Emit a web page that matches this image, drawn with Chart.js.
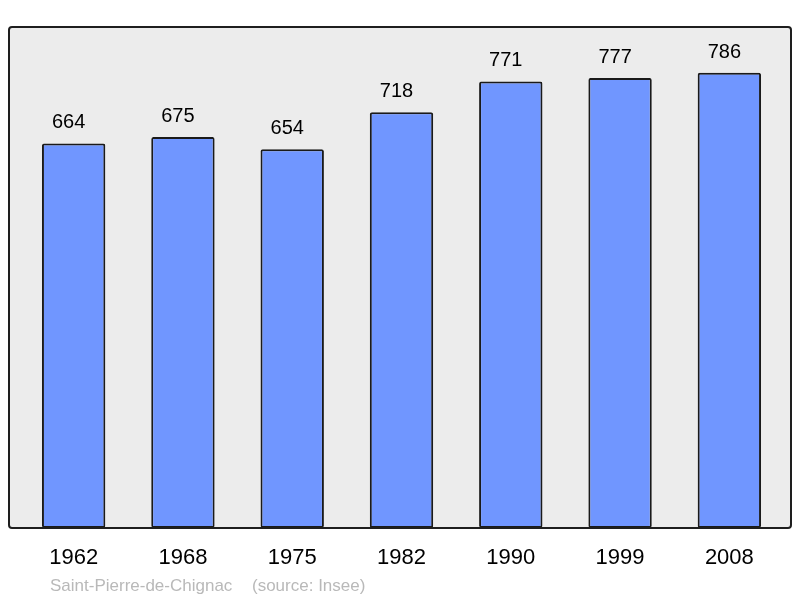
<!DOCTYPE html>
<html>
<head>
    <meta charset="utf-8">
    <title>Saint-Pierre-de-Chignac - population</title>
    <script src="https://cdn.jsdelivr.net/npm/chart.js"></script>
    <style>
        html, body { margin: 0; padding: 0; background: #fff; }
        #wrap { width: 800px; height: 598px; }
    </style>
</head>
<body>
    <div id="wrap"><canvas id="popChart"></canvas></div>

    <script>
        // données (recensements Insee)
        const annees = ['1962', '1968', '1975', '1982', '1990', '1999', '2008'];
        const population = [664, 675, 654, 718, 771, 777, 786];
        const commune = 'Saint-Pierre-de-Chignac';
        const source = '(source: Insee)';

        const fontName = '"Liberation Sans", Arial, sans-serif';

        // fond gris + cadre autour de la zone du graphique
        const cadre = {
            id: 'cadre',
            beforeDraw(chart) {
                const a = chart.chartArea;
                const ctx = chart.ctx;
                const x = a.left - 10, y = a.top, w = a.right + 7 - x, h = a.bottom - a.top;
                ctx.save();
                ctx.beginPath();
                ctx.roundRect(x, y, w, h, 3);
                ctx.fillStyle = '#ececec';
                ctx.fill();
                ctx.restore();
            },
            afterDatasetsDraw(chart) {
                const a = chart.chartArea;
                const ctx = chart.ctx;
                const x = a.left - 10, y = a.top, w = a.right + 7 - x, h = a.bottom - a.top;
                ctx.save();
                ctx.beginPath();
                ctx.roundRect(x, y, w, h, 3);
                ctx.lineWidth = 2;
                ctx.strokeStyle = '#1e1e1e';
                ctx.stroke();

                // valeurs au-dessus des barres
                ctx.fillStyle = '#000';
                ctx.font = '20px ' + fontName;
                ctx.textAlign = 'center';
                ctx.textBaseline = 'alphabetic';
                chart.getDatasetMeta(0).data.forEach((bar, i) => {
                    ctx.fillText(String(population[i]), bar.x - 5, bar.y - 15);
                });

                // légende du bas
                ctx.font = '17px ' + fontName;
                ctx.fillStyle = '#b9b9b9';
                ctx.textAlign = 'left';
                ctx.fillText(commune, 50, 591);
                ctx.fillText(source, 252, 591);
                ctx.restore();
            }
        };

        const ctx = document.getElementById('popChart').getContext('2d');
        new Chart(ctx, {
            type: 'bar',
            data: {
                labels: annees,
                datasets: [{
                    data: population,
                    backgroundColor: '#7096ff',
                    borderColor: '#1a1a1a',
                    borderWidth: 2,
                    borderRadius: 2,
                    borderSkipped: false,
                    categoryPercentage: 1,
                    barPercentage: 0.58
                }]
            },
            options: {
                responsive: true,
                maintainAspectRatio: false,
                animation: false,
                layout: { padding: { left: 19, right: 16, top: 27, bottom: 0 } },
                plugins: {
                    legend: { display: false },
                    tooltip: { enabled: false }
                },
                scales: {
                    x: {
                        grid: { display: false, drawTicks: false },
                        border: { display: false },
                        ticks: {
                            color: '#000',
                            padding: 17,
                            font: { family: fontName, size: 22 }
                        },
                        afterFit(scale) { scale.height = 70; }
                    },
                    y: {
                        display: false,
                        min: 0,
                        max: 865
                    }
                }
            },
            plugins: [cadre]
        });
    </script>
</body>
</html>
